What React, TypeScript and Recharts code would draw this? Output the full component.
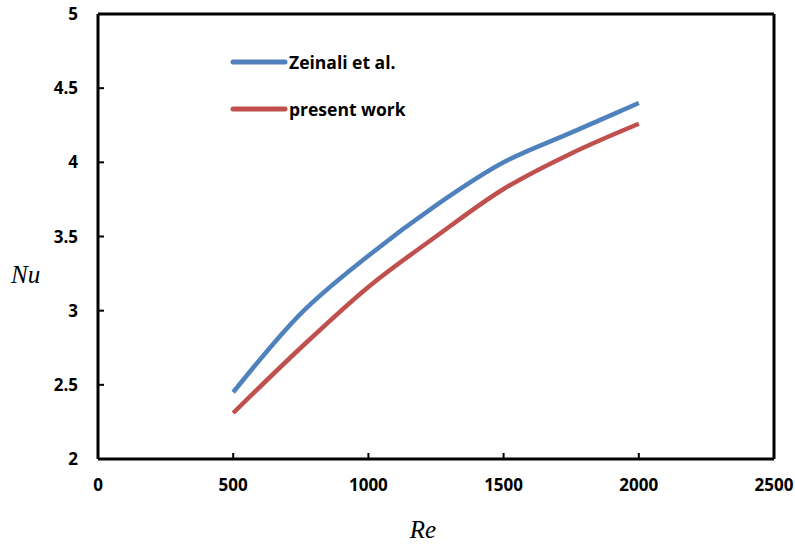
import { LineChart, Line, XAxis, YAxis, Legend, ReferenceLine, Label } from 'recharts';

const reValues = [500, 750, 1000, 1250, 1500, 1750, 2000];
const zeinali = [2.45, 2.98, 3.37, 3.71, 4.0, 4.2, 4.4];
const presentWork = [2.31, 2.75, 3.16, 3.5, 3.82, 4.06, 4.26];
const xTicks = [0, 500, 1000, 1500, 2000, 2500];
const yTicks = [2, 2.5, 3, 3.5, 4, 4.5, 5];

const data = reValues.map((re, i) => ({ re, zeinali: zeinali[i], present: presentWork[i] }));

const tickFont = { fontFamily: 'Open Sans', fontWeight: 700, fontSize: 17, fill: '#000' };
const titleFont = { fontFamily: 'Liberation Serif', fontStyle: 'italic', fontSize: 25, fill: '#000' };

const legendItems = [
  { label: 'Zeinali et al.', color: '#4F81BD' },
  { label: 'present work', color: '#C0504D' },
];

function ChartLegend() {
  return (
    <div>
      {legendItems.map((item) => (
        <div key={item.label} style={{ display: 'flex', alignItems: 'center', height: 47 }}>
          <svg width={59} height={8}>
            <line x1={3} y1={4} x2={55} y2={4} stroke={item.color} strokeWidth={5} strokeLinecap='round' />
          </svg>
          <span style={{ fontFamily: 'Open Sans', fontWeight: 700, fontSize: 17.5, color: '#000' }}>
            {item.label}
          </span>
        </div>
      ))}
    </div>
  );
}

export default function App() {
  return (
    <div style={{ position: 'absolute', left: 0, top: 0, background: '#fff' }}>
      <LineChart width={795} height={546} data={data} margin={{ top: 14, right: 21, left: 0, bottom: 7 }}>
        <XAxis
          dataKey='re'
          type='number'
          domain={[0, 2500]}
          ticks={xTicks}
          height={80}
          tick={tickFont}
          tickSize={-6}
          tickMargin={26}
          axisLine={{ stroke: '#000', strokeWidth: 3 }}
          tickLine={{ stroke: '#000', strokeWidth: 2 }}
        >
          <Label value='Re' position='insideBottom' offset={1} dx={-13} style={titleFont} />
        </XAxis>
        <YAxis
          type='number'
          domain={[2, 5]}
          ticks={yTicks}
          width={98}
          tick={tickFont}
          tickSize={-6}
          tickMargin={26}
          axisLine={{ stroke: '#000', strokeWidth: 3 }}
          tickLine={{ stroke: '#000', strokeWidth: 2 }}
        >
          <Label value='Nu' position='insideLeft' offset={11} dy={38} style={titleFont} />
        </YAxis>
        <ReferenceLine y={5} stroke='#000' strokeWidth={3} />
        <ReferenceLine x={2500} stroke='#000' strokeWidth={3} />
        <Legend
          layout='horizontal'
          verticalAlign='middle'
          align='center'
          content={() => <ChartLegend />}
          wrapperStyle={{ left: 230, top: 38, width: 220 }}
        />
        <Line
          type='monotone'
          dataKey='zeinali'
          name='Zeinali et al.'
          stroke='#4F81BD'
          strokeWidth={4.5}
          dot={false}
          isAnimationActive={false}
        />
        <Line
          type='monotone'
          dataKey='present'
          name='present work'
          stroke='#C0504D'
          strokeWidth={4.5}
          dot={false}
          isAnimationActive={false}
        />
      </LineChart>
    </div>
  );
}
